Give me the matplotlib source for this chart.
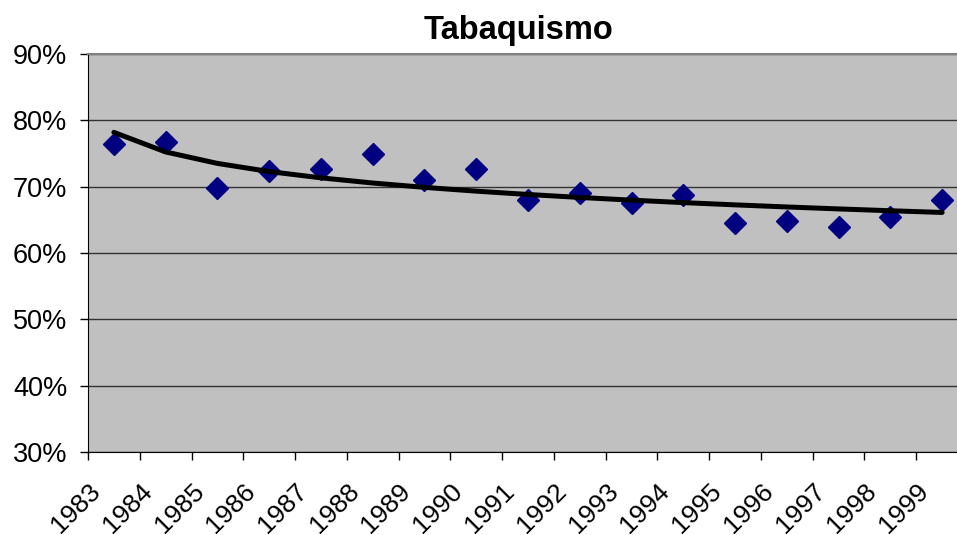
import numpy as np
import matplotlib
matplotlib.use("Agg")
import matplotlib.pyplot as plt

plt.rcParams['font.family'] = ['Liberation Sans', 'DejaVu Sans']

years = [str(y) for y in range(1983, 2000)]
values = [76.4, 76.8, 69.8, 72.3, 72.6, 75.0, 71.0, 72.6, 68.0, 69.05,
          67.5, 68.8, 64.5, 64.75, 63.9, 65.4, 68.0]
y_ticks = [30, 40, 50, 60, 70, 80, 90]

fig = plt.figure(figsize=(9.57, 5.35), dpi=100)
ax = fig.add_axes([88/957, (535-452)/535, 880/957, 398/535])
ax.set_facecolor('#C0C0C0')

idx = np.arange(1, len(values) + 1)
xpos = idx - 0.5

# logarithmic trend line fitted to the data
b, a = np.polyfit(np.log(idx), values, 1)
trend = a + b * np.log(idx)

ax.set_axisbelow(True)
ax.yaxis.grid(True, color='#333333', linewidth=1.0)
ax.plot(xpos, values, linestyle='none', marker='D', markersize=11.5,
        color='#000080', zorder=3)
ax.plot(xpos, trend, color='black', linewidth=3.6, zorder=4,
        solid_capstyle='round')

ax.set_xlim(0, len(values))
ax.set_ylim(30, 90)
ax.set_yticks(y_ticks)
ax.set_yticklabels([f'{v}%' for v in y_ticks])
ax.set_xticks(np.arange(len(years)))
ax.set_xticklabels(years, rotation=45, ha='right', va='top',
                   rotation_mode='anchor')

ax.tick_params(axis='y', direction='out', length=6, width=1, pad=9,
               labelsize=19.5, color='black')
ax.tick_params(axis='x', direction='out', length=5.5, width=1, pad=14,
               labelsize=19, color='black')

ax.spines['left'].set_color('black')
ax.spines['bottom'].set_color('black')
ax.spines['top'].set_color('#808080')
ax.spines['top'].set_linewidth(1.5)
ax.spines['right'].set_visible(False)

fig.text(518/957, 1 - 30/535, 'Tabaquismo', ha='center', va='center',
         fontsize=23.5, fontweight='bold')

fig.savefig('out.png', dpi=100)
